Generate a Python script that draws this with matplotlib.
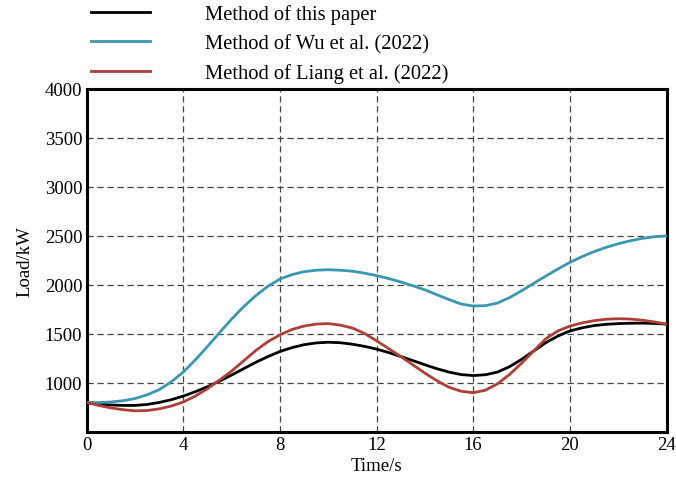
import matplotlib
matplotlib.use("Agg")
import matplotlib.pyplot as plt

plt.rcParams["font.family"] = ["Liberation Serif", "DejaVu Serif"]

# data (load in kW every half hour, 0..24)
hours = [i * 0.5 for i in range(49)]
load_this = [800, 785, 775, 770, 770, 780, 800, 828, 865, 910, 960, 1018, 1080,
             1145, 1210, 1268, 1320, 1360, 1390, 1408, 1415, 1410, 1395, 1373, 1345,
             1310, 1270, 1228, 1185, 1145, 1110, 1085, 1075, 1083, 1110, 1165, 1240,
             1325, 1410, 1478, 1530, 1562, 1585, 1598, 1605, 1609, 1610, 1607, 1600]
load_wu = [800, 800, 805, 818, 840, 878, 930, 1010, 1110, 1235, 1370, 1512, 1650,
           1778, 1890, 1985, 2060, 2105, 2135, 2150, 2155, 2150, 2140, 2120, 2095,
           2065, 2030, 1992, 1950, 1900, 1850, 1805, 1785, 1788, 1815, 1870, 1940,
           2015, 2090, 2162, 2230, 2288, 2340, 2383, 2420, 2450, 2475, 2492, 2500]
load_liang = [800, 770, 745, 727, 715, 718, 735, 763, 805, 865, 940, 1028, 1120,
              1225, 1330, 1420, 1490, 1545, 1580, 1600, 1605, 1590, 1560, 1505, 1430,
              1350, 1270, 1185, 1100, 1022, 955, 915, 900, 925, 990, 1085, 1200,
              1325, 1450, 1530, 1580, 1612, 1635, 1650, 1655, 1652, 1640, 1622, 1600]
labels = ["Method of this paper", "Method of Wu et al. (2022)", "Method of Liang et al. (2022)"]
xticks = [0, 4, 8, 12, 16, 20, 24]
yticks = [1000, 1500, 2000, 2500, 3000, 3500, 4000]

C_BLACK = "#000000"
C_WU = "#3a97b1"
C_LIANG = "#ae3f37"

fig = plt.figure(figsize=(6.76, 4.81), dpi=100)
ax = fig.add_axes([0.128, 0.10, 0.858, 0.713])

l1, = ax.plot(hours, load_this, color=C_BLACK, lw=2, label=labels[0], zorder=3)
l2, = ax.plot(hours, load_wu, color=C_WU, lw=2, label=labels[1], zorder=3)
l3, = ax.plot(hours, load_liang, color=C_LIANG, lw=2, label=labels[2], zorder=3)

ax.set_xlim(0, 24)
ax.set_ylim(500, 4000)
ax.set_xticks(xticks)
ax.set_yticks(yticks)
ax.tick_params(length=0, labelsize=13.5, pad=3)
ax.grid(True, color="#444444", ls=(0, (5, 3)), lw=0.9)
for sp in ax.spines.values():
    sp.set_linewidth(2.2)

ax.set_xlabel("Time/s", fontsize=13.5, labelpad=3)
ax.set_ylabel("Load/kW", fontsize=13.5, labelpad=8)

fig.legend(handles=[l1, l2, l3], loc="upper left", bbox_to_anchor=(0.107, 1.027),
           frameon=False, fontsize=14.8, handlelength=2.9, handletextpad=2.66,
           labelspacing=0.47)

fig.savefig("out.png", dpi=100)
